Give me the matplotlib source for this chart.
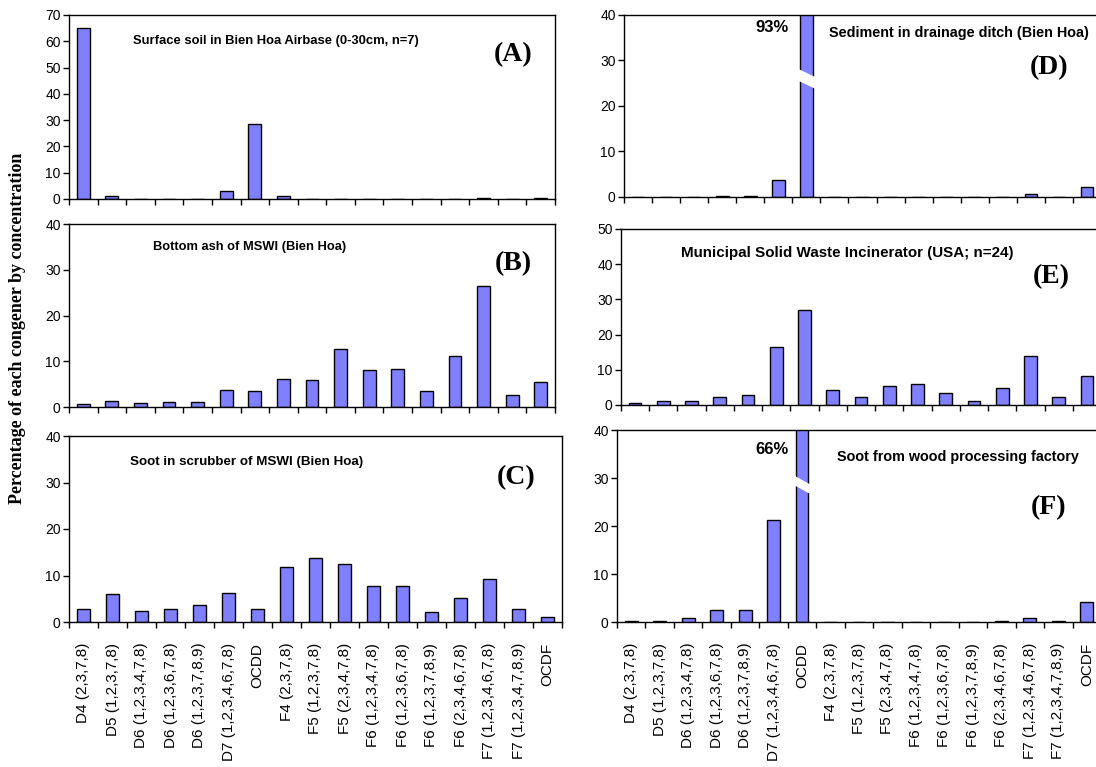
import matplotlib
matplotlib.use('Agg')
import matplotlib.pyplot as plt
from matplotlib.patches import Polygon
import numpy as np

congeners = ["D4 (2,3,7,8)", "D5 (1,2,3,7,8)", "D6 (1,2,3,4,7,8)", "D6 (1,2,3,6,7,8)",
             "D6 (1,2,3,7,8,9)", "D7 (1,2,3,4,6,7,8)", "OCDD", "F4 (2,3,7,8)",
             "F5 (1,2,3,7,8)", "F5 (2,3,4,7,8)", "F6 (1,2,3,4,7,8)", "F6 (1,2,3,6,7,8)",
             "F6 (1,2,3,7,8,9)", "F6 (2,3,4,6,7,8)", "F7 (1,2,3,4,6,7,8)", "F7 (1,2,3,4,7,8,9)",
             "OCDF"]

surface_soil = [65.0, 1.3, 0, 0, 0, 3.0, 28.4, 1.3, 0, 0, 0, 0, 0, 0, 0.4, 0, 0.4]
bottom_ash = [0.6, 1.4, 0.9, 1.1, 1.1, 3.8, 3.6, 6.1, 5.9, 12.7, 8.0, 8.2, 3.4, 11.2, 26.5, 2.7, 5.4]
scrubber_soot = [2.9, 6.0, 2.4, 2.7, 3.7, 6.3, 2.9, 11.8, 13.8, 12.5, 7.8, 7.8, 2.1, 5.2, 9.3, 2.9, 1.1]
ditch_sediment = [0, 0, 0, 0.3, 0.3, 3.7, 93.0, 0, 0, 0, 0, 0, 0, 0, 0.6, 0, 2.1]
usa_mswi = [0.5, 1.1, 1.1, 2.4, 2.7, 16.6, 27.0, 4.3, 2.4, 5.4, 6.0, 3.4, 1.1, 4.9, 13.9, 2.4, 8.3]
wood_soot = [0.2, 0.2, 0.8, 2.6, 2.4, 21.3, 66.0, 0, 0, 0, 0, 0, 0, 0.2, 0.8, 0.2, 4.1]

ymax = [70, 40, 40, 40, 50, 40]
titles = ["Surface soil in Bien Hoa Airbase (0-30cm, n=7)",
          "Bottom ash of MSWI (Bien Hoa)",
          "Soot in scrubber of MSWI (Bien Hoa)",
          "Sediment in drainage ditch (Bien Hoa)",
          "Municipal Solid Waste Incinerator (USA; n=24)",
          "Soot from wood processing factory"]
letters = ["(A)", "(B)", "(C)", "(D)", "(E)", "(F)"]
series = [surface_soil, bottom_ash, scrubber_soot, ditch_sediment, usa_mswi, wood_soot]

W, H = 1096, 767
fig = plt.figure(figsize=(W / 100, H / 100), dpi=100)
SANS = "Liberation Sans"
SERIF = "Liberation Serif"

boxes = [(69, 555, 15, 199), (69, 555, 224, 407), (69, 562, 436, 622),
         (624, 1101, 15, 197), (621, 1101, 229, 405), (617, 1101, 430, 622)]


def px(x, y):
    return x / W, 1 - y / H


axes = []
for i, (x0, x1, y0, y1) in enumerate(boxes):
    ax = fig.add_axes([x0 / W, 1 - y1 / H, (x1 - x0) / W, (y1 - y0) / H])
    xs = np.arange(len(congeners))
    bars = ax.bar(xs, series[i], width=0.45, color="#8080FF", edgecolor="black", linewidth=1.0)
    ax.set_xlim(-0.5, len(congeners) - 0.5)
    ax.set_ylim(0, ymax[i])
    ax.set_yticks(np.arange(0, ymax[i] + 1, 10))
    ax.set_xticks(xs)
    ax.set_xticks(np.arange(-0.5, len(congeners), 1.0), minor=True)
    ax.tick_params(axis="x", which="major", length=0, pad=15)
    ax.tick_params(axis="x", which="minor", length=4, direction="out", width=1)
    ax.tick_params(axis="y", length=4, direction="out", width=1, labelsize=10, pad=2)
    for lab in ax.get_yticklabels():
        lab.set_fontfamily(SANS)
    if i in (2, 5):
        ax.set_xticklabels(congeners, rotation=90, va="top", ha="center",
                           fontsize=11, fontfamily=SANS)
    else:
        ax.set_xticklabels([])
    for s in ax.spines.values():
        s.set_linewidth(1.0)
    axes.append((ax, bars))

# broken bars
for (ax, bars), (ytop_l, ytop_r, gap) in [(axes[3], (28.2, 26.4, 2.6)), (axes[5], (30.6, 28.6, 2.0))]:
    b = bars[6]
    xl = b.get_x() - 0.08
    xr = b.get_x() + b.get_width() + 0.08
    poly = Polygon([(xl, ytop_l), (xr, ytop_r), (xr, ytop_r - gap), (xl, ytop_l - gap)],
                   closed=True, facecolor="white", edgecolor="none", zorder=5)
    ax.add_patch(poly)

# titles
title_pos = [(133, 41, 9.4), (153, 247, 9.3), (130, 462, 9.6), (829, 33, 10.4), (681, 253, 10.9), (837, 457, 10.4)]
letter_pos = [(513, 55), (513, 264), (516, 478), (1049, 68), (1051, 277), (1049, 508)]
for i in range(6):
    x, y, fs = title_pos[i]
    fig.text(*px(x, y), titles[i], ha="left", va="center", fontsize=fs,
             fontweight="bold", fontfamily=SANS)
    fig.text(*px(*letter_pos[i]), letters[i], ha="center", va="center", fontsize=20,
             fontweight="bold", fontfamily=SERIF)

fig.text(*px(789, 27), "93%", ha="right", va="center", fontsize=12, fontweight="bold", fontfamily=SANS)
fig.text(*px(789, 450), "66%", ha="right", va="center", fontsize=12, fontweight="bold", fontfamily=SANS)

fig.text(*px(18, 328), "Percentage of each congener by concentration", rotation=90,
         ha="center", va="center", fontsize=13, fontweight="bold", fontfamily=SERIF)

fig.savefig("out.png", dpi=100)
